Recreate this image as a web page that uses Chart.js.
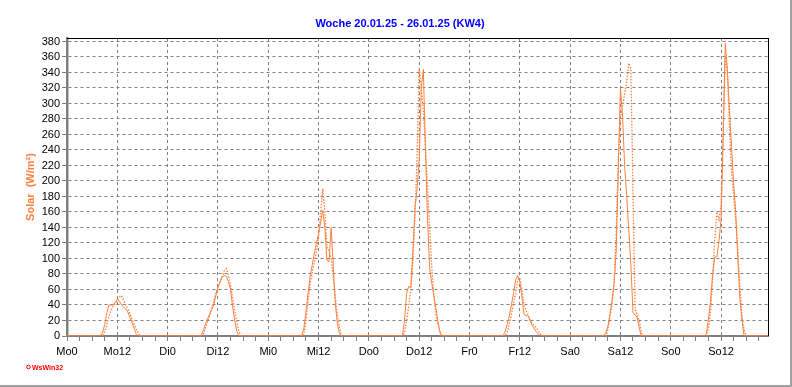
<!DOCTYPE html>
<html>
<head>
<meta charset="utf-8">
<script src="https://cdn.jsdelivr.net/npm/chart.js@4.4.1/dist/chart.umd.min.js"></script>
<style>
  html, body { margin: 0; padding: 0; background: #fff; }
  canvas { display: block; }
</style>
</head>
<body>
<canvas id="solarChart" width="792" height="387"></canvas>
<script>
// day labels for the x axis (0h / 12h of each day)
const dayNames = ["Mo", "Di", "Mi", "Do", "Fr", "Sa", "So"];
const yTicks = [0, 20, 40, 60, 80, 100, 120, 140, 160, 180, 200, 220, 240, 260, 280, 300, 320, 340, 360, 380];

// readings every half hour from 08:00 to 18:00, nights are 0
const sampleHours = [8, 8.5, 9, 9.5, 10, 10.5, 11, 11.5, 12, 12.5, 13, 13.5, 14, 14.5, 15, 15.5, 16, 16.5, 17, 17.5, 18];

// solid line (Solar W/m²)
const solidMo = [0, 5, 15, 30, 40, 40, 40, 44, 47, 45, 40, 37, 35, 31, 24, 17, 10, 3, 0, 0, 0];
const solidDi = [0, 7, 15, 22, 28, 34, 40, 52, 63, 70, 76, 78, 77, 70, 60, 38, 20, 6, 0, 0, 0];
const solidMi = [0, 10, 32, 55, 77, 92, 107, 120, 132, 147, 162, 140, 98, 96, 140, 92, 42, 15, 3, 0, 0];
const solidDo = [0, 20, 55, 64, 62, 110, 165, 190, 227, 320, 344, 240, 150, 88, 68, 52, 36, 18, 4, 0, 0];
const solidFr = [0, 6, 15, 26, 40, 55, 72, 78, 70, 51, 28, 26, 26, 19, 13, 9, 5, 2, 0, 0, 0];
const solidSa = [0, 4, 12, 28, 46, 68, 111, 215, 320, 285, 220, 180, 137, 92, 30, 27, 24, 10, 0, 0, 0];
const solidSo = [0, 3, 22, 45, 80, 102, 102, 122, 150, 250, 378, 345, 292, 245, 197, 160, 100, 48, 20, 0, 0];

// dotted line
const dottedMo = [0, 0, 6, 15, 25, 33, 38, 42, 46, 50, 52, 46, 40, 35, 29, 22, 15, 9, 4, 0, 0];
const dottedDi = [0, 2, 10, 18, 26, 35, 45, 55, 63, 70, 77, 84, 87, 78, 65, 50, 33, 18, 6, 0, 0];
const dottedMi = [0, 2, 20, 45, 68, 82, 95, 108, 128, 160, 190, 160, 115, 110, 100, 76, 50, 26, 10, 0, 0];
const dottedDo = [0, 5, 20, 38, 60, 95, 155, 230, 345, 320, 290, 245, 190, 140, 89, 52, 28, 14, 5, 0, 0];
const dottedFr = [0, 0, 5, 16, 28, 42, 55, 72, 75, 60, 40, 33, 27, 20, 16, 13, 10, 6, 2, 0, 0];
const dottedSa = [0, 0, 8, 25, 40, 70, 135, 230, 282, 296, 312, 328, 352, 345, 185, 35, 27, 20, 4, 0, 0];
const dottedSo = [0, 0, 10, 32, 75, 125, 160, 150, 170, 266, 360, 340, 272, 212, 180, 150, 112, 65, 25, 8, 0];

const ORANGE = "#ff8040";
const X_END = 167.2; // last reading of the week (hours since Mo 0:00)

function buildSeries(days) {
  const pts = [{ x: 0, y: 0 }];
  days.forEach((vals, d) => {
    vals.forEach((v, i) => pts.push({ x: d * 24 + sampleHours[i], y: v }));
  });
  pts.push({ x: X_END, y: 0 });
  return pts;
}

// frame, outer border and the little WsWin logo
const framePlugin = {
  id: "frame",
  afterDraw(chart) {
    const { ctx, chartArea: a } = chart;
    ctx.save();
    ctx.strokeStyle = "#000";
    ctx.lineWidth = 1;
    ctx.beginPath();
    ctx.moveTo(a.left, a.top + 0.5);
    ctx.lineTo(a.right + 1, a.top + 0.5);
    ctx.moveTo(a.right + 0.5, a.top);
    ctx.lineTo(a.right + 0.5, a.bottom);
    ctx.stroke();

    ctx.strokeStyle = "#a0a0a0";
    ctx.lineWidth = 2;
    ctx.beginPath();
    ctx.moveTo(0, 386);
    ctx.lineTo(791, 386);
    ctx.lineTo(791, 0);
    ctx.stroke();

    ctx.strokeStyle = "#ff0000";
    ctx.fillStyle = "#ff0000";
    ctx.lineWidth = 1;
    ctx.beginPath();
    ctx.arc(28.5, 367, 1.8, 0, Math.PI * 2);
    ctx.stroke();
    ctx.font = "bold 7px 'Liberation Sans', Arial, sans-serif";
    ctx.textBaseline = "alphabetic";
    ctx.fillText("WsWin32", 32, 369.5);
    ctx.restore();
  }
};

Chart.defaults.font.family = "'Liberation Sans', Arial, sans-serif";

const ctx = document.getElementById("solarChart").getContext("2d");
new Chart(ctx, {
  type: "line",
  data: {
    datasets: [
      {
        label: "Solar",
        data: buildSeries([solidMo, solidDi, solidMi, solidDo, solidFr, solidSa, solidSo]),
        borderColor: ORANGE,
        borderWidth: 1,
        pointRadius: 0,
        tension: 0
      },
      {
        label: "Solar max",
        data: buildSeries([dottedMo, dottedDi, dottedMi, dottedDo, dottedFr, dottedSa, dottedSo]),
        borderColor: ORANGE,
        borderWidth: 1.3,
        borderDash: [1.5, 1.5],
        pointRadius: 0,
        tension: 0
      }
    ]
  },
  options: {
    responsive: false,
    animation: false,
    layout: { padding: { left: 8, right: 0, top: 0, bottom: 0 } },
    plugins: {
      legend: { display: false },
      tooltip: { enabled: false },
      title: {
        display: true,
        text: "Woche 20.01.25 - 26.01.25 (KW4)",
        color: "#0000ff",
        font: { size: 11, weight: "bold" },
        padding: { top: 17.4, bottom: 7.4 }
      }
    },
    scales: {
      x: {
        type: "linear",
        min: 0,
        max: X_END,
        afterBuildTicks: (s) => {
          const t = [];
          for (let h = 0; h < X_END; h += 3) t.push({ value: h });
          s.ticks = t;
        },
        afterFit: (s) => { s.height = 51; },
        ticks: {
          autoSkip: false,
          maxRotation: 0,
          color: "#000",
          font: { size: 11 },
          padding: 4,
          callback: (v) => (v % 12 === 0 ? dayNames[Math.floor(v / 24)] + (v % 24) : "")
        },
        grid: {
          color: (c) => (c.tick && c.tick.value % 12 === 0 ? "#808080" : "rgba(0,0,0,0)"),
          lineWidth: 1,
          tickLength: 5,
          tickColor: "#808080",
          tickWidth: 1
        },
        border: { display: true, color: "#808080", width: 2, dash: [3, 3] }
      },
      y: {
        min: 0,
        max: 384.5,
        afterBuildTicks: (s) => { s.ticks = yTicks.map((v) => ({ value: v })); },
        afterFit: (s) => { s.width = 59; },
        ticks: { autoSkip: false, color: "#000", font: { size: 11 }, padding: 2 },
        grid: {
          color: "#808080",
          lineWidth: 1,
          tickLength: 5,
          tickColor: "#808080",
          tickWidth: 1
        },
        border: { display: true, color: "#808080", width: 2.5, dash: [3, 3] },
        title: {
          display: true,
          text: "Solar  (W/m²)",
          color: ORANGE,
          font: { size: 11, weight: "bold" },
          padding: { top: 16.4, bottom: 0 }
        }
      },
      yRight: {
        position: "right",
        display: true,
        afterFit: (s) => { s.width = 24; },
        ticks: { display: false },
        grid: { display: false },
        border: { display: false }
      }
    }
  },
  plugins: [framePlugin]
});
</script>
</body>
</html>
